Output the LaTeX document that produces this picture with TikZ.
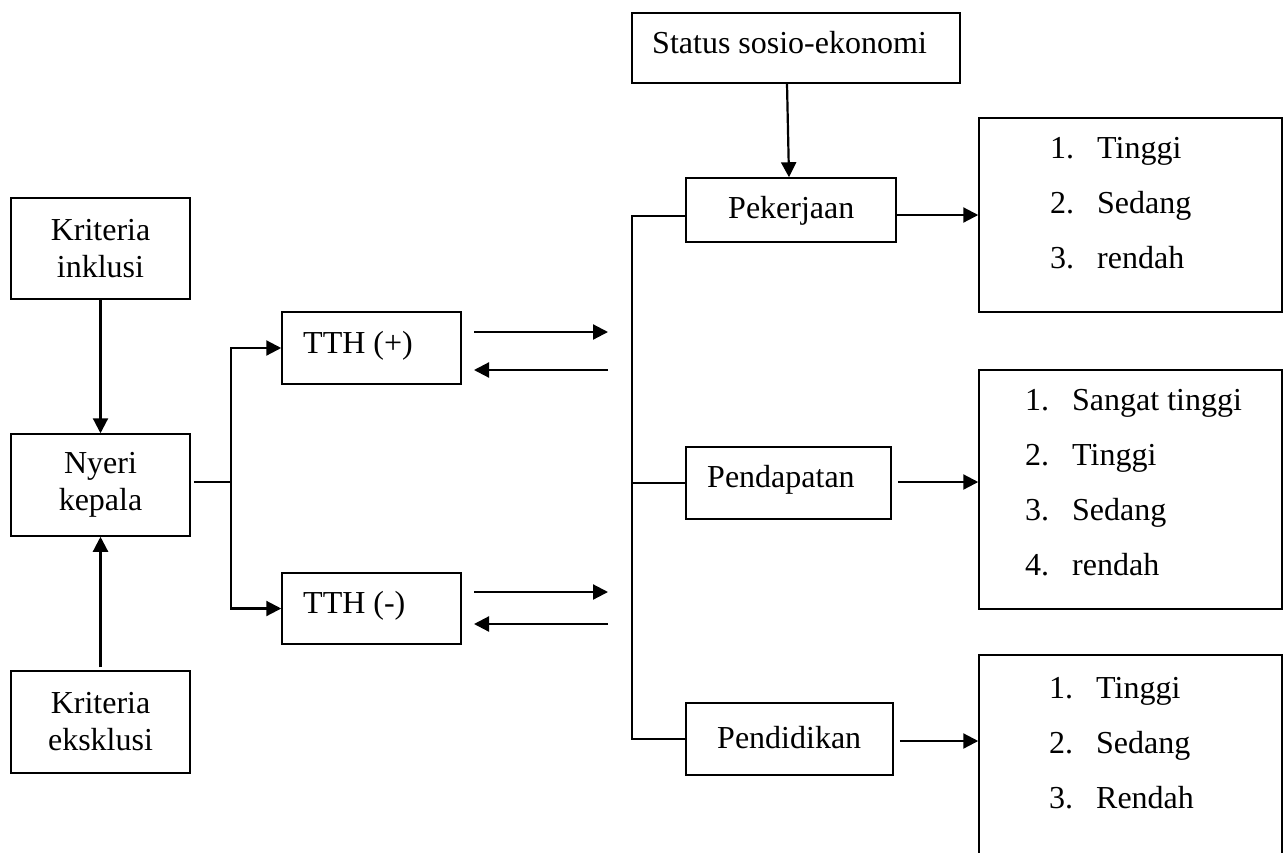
\documentclass[tikz,border=0pt]{standalone}
\usepackage{fontspec}
\setmainfont{Liberation Serif}
\usetikzlibrary{arrows.meta}
\begin{document}
\begin{tikzpicture}[x=1pt,y=-1pt,
  box/.style={draw, line width=1.5pt, rectangle, inner sep=0pt},
  lbl/.style={anchor=base west, inner sep=0pt, font=\fontsize{32}{37}\selectfont},
  ctr/.style={align=center, inner sep=0pt, font=\fontsize{32}{37}\selectfont},
  arr/.style={line width=2.2pt, -{Triangle[length=15pt,width=15pt]}},
  conn/.style={line width=1.4pt},
  lst/.style={anchor=base west, inner sep=0pt, font=\fontsize{32}{55}\selectfont}
]
\clip (0,0) rectangle (1287,852);
\fill[white] (0,0) rectangle (1287,852);

% boxes
\node[box, minimum width=328pt, minimum height=70pt] (status) at (796,48) {};
\node[lbl] (statust) at (652,53) {Status sosio-ekonomi};

\node[box, ctr, minimum width=179pt, minimum height=101pt] (inkl) at (100.5,248.5) {Kriteria\\inklusi};
\node[box, ctr, minimum width=179pt, minimum height=102pt] (nyeri) at (100.5,485) {Nyeri\\kepala};
\node[box, ctr, minimum width=179pt, minimum height=102pt] (eks) at (100.5,722) {Kriteria\\eksklusi};

\node[box, minimum width=179pt, minimum height=72pt] (tthp) at (371.5,348) {};
\node[lbl] (tthpt) at (303,353) {TTH (+)};
\node[box, minimum width=179pt, minimum height=71pt] (tthm) at (371.5,608.5) {};
\node[lbl] (tthmt) at (303,613) {TTH (-)};

\node[box, minimum width=210pt, minimum height=64pt] (pek) at (791,210) {};
\node[lbl] (pekt) at (728,218) {Pekerjaan};
\node[box, minimum width=205pt, minimum height=72pt] (pend) at (788.5,483) {};
\node[lbl] (pendt) at (707,487) {Pendapatan};
\node[box, minimum width=207pt, minimum height=72pt] (pendid) at (789.5,739) {};
\node[lbl] (pendidt) at (717,748) {Pendidikan};

\node[box, minimum width=303pt, minimum height=194pt] (l1) at (1130.5,215) {};
\node[lst] (l1t) at (1050,158) {\begin{tabular}[t]{@{}l@{\hspace{23pt}}l@{}}1. & Tinggi\\2. & Sedang\\3. & rendah\end{tabular}};
\node[box, minimum width=303pt, minimum height=239pt] (l2) at (1130.5,489.5) {};
\node[lst] (l2t) at (1025,410) {\begin{tabular}[t]{@{}l@{\hspace{23pt}}l@{}}1. & Sangat tinggi\\2. & Tinggi\\3. & Sedang\\4. & rendah\end{tabular}};
\node[box, minimum width=303pt, minimum height=245pt] (l3) at (1130.5,777.5) {};
\node[lst] (l3t) at (1049,698) {\begin{tabular}[t]{@{}l@{\hspace{23pt}}l@{}}1. & Tinggi\\2. & Sedang\\3. & Rendah\end{tabular}};

% connectors left
\draw[arr] (inkl.south) -- (nyeri.north);
\draw[arr] ([yshift=3pt]eks.north) -- (nyeri.south);
\coordinate (j) at (231,482);
\draw[conn] ([xshift=3pt,yshift=3pt]nyeri.east) -- (j);
\draw[arr] (j) |- (tthp.west);
\draw[arr] (j) |- (tthm.west);

% double arrows
\coordinate (p1a) at (474,332); \coordinate (p1b) at (608,332);
\coordinate (p2a) at (608,370); \coordinate (p2b) at (474,370);
\coordinate (m1a) at (474,592); \coordinate (m1b) at (608,592);
\coordinate (m2a) at (608,624); \coordinate (m2b) at (474,624);
\draw[arr] (p1a) -- (p1b);
\draw[arr] (p2a) -- (p2b);
\draw[arr] (m1a) -- (m1b);
\draw[arr] (m2a) -- (m2b);

% right side
\draw[arr] ([xshift=-9pt]status.south) -- ([xshift=-2pt]pek.north);
\coordinate (vt) at (632,216);
\coordinate (vb) at (632,739);
\draw[conn] ([yshift=-6pt]pek.west) -- (vt) -- (vb) -- (pendid.west);
\draw[conn] (pend.west) -- (pend.west -| vt);

\draw[arr] (pek.east |- l1.west) -- (l1.west);
\draw[arr] ([xshift=6pt,yshift=1pt]pend.east) coordinate (s2) -- (s2 -| l2.west);
\draw[arr] ([xshift=6pt,yshift=-2pt]pendid.east) coordinate (s3) -- (s3 -| l3.west);
\end{tikzpicture}
\end{document}
